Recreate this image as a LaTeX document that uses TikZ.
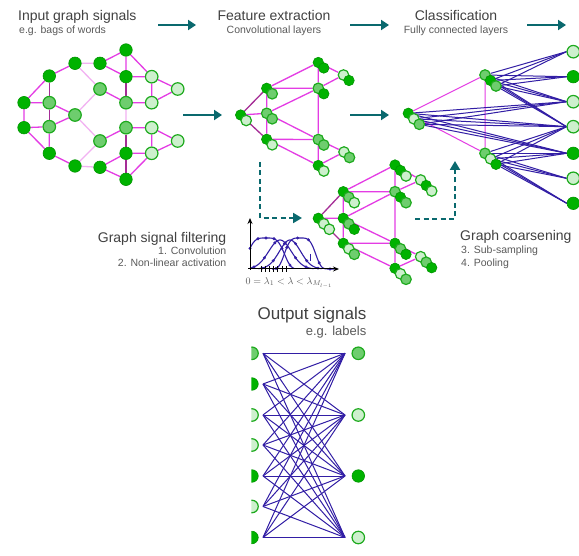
\documentclass[tikz,border=0pt]{standalone}
\usepackage{fontspec}
\setmainfont{Liberation Sans}
\usetikzlibrary{arrows.meta}
\definecolor{gdark}{RGB}{0,178,0}
\definecolor{gdarkb}{RGB}{0,150,0}
\definecolor{gmid}{RGB}{110,205,110}
\definecolor{glight}{RGB}{205,240,205}
\definecolor{gbord}{RGB}{30,170,30}
\definecolor{mag}{RGB}{228,60,228}
\definecolor{magd}{RGB}{165,45,150}
\definecolor{magl}{RGB}{242,178,242}
\definecolor{teal2}{RGB}{10,105,110}
\definecolor{indig}{RGB}{50,30,165}
\definecolor{txt}{RGB}{65,65,65}
\definecolor{txtl}{RGB}{90,90,90}
\pgfdeclarelayer{bg}\pgfdeclarelayer{paper}\pgfsetlayers{paper,bg,main}
\tikzset{
 nd/.style={circle,inner sep=0pt,fill=gdark,draw=gdarkb,line width=0.6pt},
 nm/.style={circle,inner sep=0pt,fill=gmid,draw=gbord,line width=1.2pt},
 nl/.style={circle,inner sep=0pt,fill=glight,draw=gbord,line width=1.2pt},
 szb/.style={minimum size=12.5pt},
 szs/.style={minimum size=10.5pt},
 emag/.style={draw=mag,line width=1.3pt},
 edark/.style={draw=magd,line width=1.3pt},
 elight/.style={draw=magl,line width=1.3pt},
 fcon/.style={draw=indig,line width=1pt},
 tarrow/.style={draw=teal2,line width=2.6pt,-{Triangle[length=8pt,width=10pt]}},
 darrow/.style={draw=teal2,line width=2pt,dash pattern=on 5pt off 3.5pt,-{Triangle[length=9pt,width=10pt]}},
 ttl/.style={text=txt,font=\fontsize{14}{16}\selectfont,inner sep=0pt},
 sbt/.style={text=txtl,font=\fontsize{10.5}{12}\selectfont,inner sep=0pt},
 axl/.style={draw=black,line width=1pt,-{Stealth[length=6pt,width=5pt]}},
 fcurve/.style={draw=indig,line width=1.1pt},
}
\newcommand{\ctwo}[4]{\node[#3,szs] (#1) at (#2) {};\node[#4,szs] (#1b) at ([shift={(5.5,5.5)}]#2) {};}
\newcommand{\cthree}[5]{\node[#3,szs] (#1) at (#2) {};\node[#4,szs] (#1b) at ([shift={(5.5,5.5)}]#2) {};\node[#5,szs] (#1c) at ([shift={(11,11)}]#2) {};}
\begin{document}
\begin{tikzpicture}[x=1pt,y=-1pt]
\begin{pgfonlayer}{paper}
\fill[white] (0,0) rectangle (579,556);
\end{pgfonlayer}
\useasboundingbox (0,0) rectangle (579,556);

% ---------- titles ----------
\node[ttl,anchor=base west] (t1) at (18,21) {Input graph signals};
\node[sbt,anchor=base west] (s1) at (19,33.5) {e.g. bags of words};
\node[ttl,anchor=base] (t2) at (274,20.7) {Feature extraction};
\node[sbt,anchor=base] (s2) at (274,34) {Convolutional layers};
\node[ttl,anchor=base] (t3) at (456,20.7) {Classification};
\node[sbt,anchor=base] (s3) at (456,33.5) {Fully connected layers};
\node[ttl,anchor=base east] (t4) at (226.5,242.5) {Graph signal filtering};
\node[sbt,anchor=base east] (s4a) at (226.5,254.5) {1. Convolution};
\node[sbt,anchor=base east] (s4b) at (226.5,266.7) {2. Non-linear activation};
\node[ttl,anchor=base west] (t5) at (460,241) {Graph coarsening};
\node[sbt,anchor=base west] (s5a) at (461,253.5) {3. Sub-sampling};
\node[sbt,anchor=base west] (s5b) at (461,266.7) {4. Pooling};
\node[ttl,font=\fontsize{17}{19}\selectfont,anchor=base east] (t6) at (366.5,319.5) {Output signals};
\node[sbt,font=\fontsize{13}{15}\selectfont,anchor=base east] (s6) at (366.5,335.5) {e.g. labels};

% ---------- arrows ----------
\coordinate (a1s) at (158,25); \coordinate (a1e) at (196,25);
\coordinate (a2s) at (350,25); \coordinate (a2e) at (389,25);
\coordinate (a3s) at (527,25); \coordinate (a3e) at (566,25);
\coordinate (m1s) at (183,115); \coordinate (m1e) at (222,115);
\coordinate (m2s) at (350,115); \coordinate (m2e) at (389,115);
\draw[tarrow] (a1s) -- (a1e);
\draw[tarrow] (a2s) -- (a2e);
\draw[tarrow] (a3s) -- (a3e);
\draw[tarrow] (m1s) -- (m1e);
\draw[tarrow] (m2s) -- (m2e);
\coordinate (d1s) at (260,162); \coordinate (d1e) at (302,218);
\coordinate (d2s) at (415,219); \coordinate (d2e) at (455,161);
\draw[darrow] (d1s) |- (d1e);
\draw[darrow] (d2s) -| (d2e);

% ---------- input graph ----------
\node[nd,szb] (A) at (24,102.7) {};
\node[nd,szb] (B) at (24,127.7) {};
\node[nd,szb] (C) at (49.3,76) {};
\node[nm,szb] (D) at (49.3,102.7) {};
\node[nm,szb] (E) at (49.3,126.7) {};
\node[nd,szb] (F) at (49.3,153.3) {};
\node[nd,szb] (G) at (75,63.3) {};
\node[nm,szb] (H) at (75,115) {};
\node[nd,szb] (I) at (75,166) {};
\node[nd,szb] (J) at (100,63.3) {};
\node[nm,szb] (K) at (100,89) {};
\node[nm,szb] (L) at (100,141) {};
\node[nd,szb] (M) at (100,167.3) {};
\node[nd,szb] (N) at (126,50) {};
\node[nd,szb] (O) at (126,76.7) {};
\node[nm,szb] (P) at (126,102.7) {};
\node[nm,szb] (Q) at (126,127.7) {};
\node[nd,szb] (R) at (126,153.3) {};
\node[nd,szb] (S) at (126,179.3) {};
\node[nl,szb] (T) at (151.7,76.7) {};
\node[nl,szb] (U) at (151.7,102.7) {};
\node[nl,szb] (V) at (177.7,89) {};
\node[nl,szb] (W) at (151.7,127.7) {};
\node[nl,szb] (X) at (151.7,153.3) {};
\node[nl,szb] (Y) at (177.7,141) {};
\begin{pgfonlayer}{bg}
\draw[emag] (A)--(B) (A)--(C) (A)--(D) (B)--(E) (B)--(F) (C)--(G) (D)--(H) (E)--(H) (E)--(F) (F)--(I)
 (J)--(N) (J)--(O) (N)--(O) (N)--(T) (O)--(T) (K)--(P) (P)--(U) (T)--(U) (T)--(V) (U)--(V)
 (L)--(Q) (Q)--(W) (M)--(R) (M)--(S) (R)--(X) (S)--(X) (W)--(X) (W)--(Y) (X)--(Y);
\draw[edark] (C)--(D) (D)--(E) (O)--(P) (Q)--(R) (R)--(S);
\draw[elight] (G)--(J) (G)--(K) (K)--(H) (H)--(L) (L)--(I) (I)--(M) (P)--(Q);
\end{pgfonlayer}

% ---------- feature extraction graph ----------
\ctwo{fa}{240.7,115}{nd}{nl}
\ctwo{fb}{266.7,88.3}{nd}{nm}
\ctwo{fc}{266.7,113.3}{nm}{nm}
\ctwo{fd}{266.7,139.3}{nd}{nl}
\ctwo{fe}{318.3,62.5}{nd}{nd}
\ctwo{ff}{318.3,88.3}{nm}{nd}
\ctwo{fg}{318.3,139.5}{nm}{nm}
\ctwo{fh}{318.3,165.5}{nd}{nl}
\ctwo{fi}{343.5,75}{nl}{nd}
\ctwo{fj}{344,152}{nl}{nm}
\begin{pgfonlayer}{bg}
\draw[edark] (fa)--(fb) (fa)--(fd);
\draw[emag] (fa)--(fc) (fb)--(fc) (fc)--(fd) (fb)--(fe) (fb)--(ff) (fc)--(ff) (fc)--(fg) (fd)--(fg) (fd)--(fh)
 (fe)--(ff) (ff)--(fg) (fg)--(fh) (fe)--(fi) (ff)--(fi) (fg)--(fj) (fh)--(fj);
\end{pgfonlayer}

% ---------- coarsened graph ----------
\cthree{ca}{318.3,218.3}{nd}{nl}{nl}
\cthree{cb}{343.3,191.7}{nd}{nm}{nl}
\cthree{cc}{343.3,218.3}{nd}{nm}{nd}
\cthree{cd}{343.3,243.3}{nd}{nl}{nm}
\cthree{ce}{395,165}{nd}{nd}{nl}
\cthree{cf}{395,191.7}{nm}{nd}{nm}
\cthree{cg}{395,243.3}{nd}{nm}{nd}
\cthree{ch}{395,268.3}{nd}{nl}{nm}
\cthree{ci}{420.7,180}{nl}{nd}{nl}
\cthree{cj}{420.7,256.7}{nl}{nm}{nd}
\begin{pgfonlayer}{bg}
\draw[edark] (ca)--(cb) (ca)--(cd);
\draw[emag] (ca)--(cc) (cb)--(cc) (cc)--(cd) (cb)--(ce) (cb)--(cf) (cc)--(cf) (cc)--(cg) (cd)--(cg) (cd)--(ch)
 (ce)--(cf) (cf)--(cg) (cg)--(ch) (ce)--(ci) (cf)--(ci) (cg)--(cj) (ch)--(cj);
\end{pgfonlayer}

% ---------- filter plot ----------
\coordinate (po) at (250,270); \coordinate (py) at (250,218); \coordinate (px) at (339,269);
\coordinate (pl) at (248,269);
\draw[fcurve] plot[domain=250:294,samples=60,smooth] (\x,{269-31*exp(-(((\x-266)*(\x-266)/400)^2))});
\draw[fcurve] plot[domain=250:314,samples=60,smooth] (\x,{269-29*exp(-((\x-280)*(\x-280)/256))});
\draw[fcurve] plot[domain=258:322,samples=60,smooth] (\x,{269-29*exp(-((\x-290)*(\x-290)/225))});
\draw[fcurve] plot[domain=272:334,samples=60,smooth] (\x,{269-31*exp(-(((\x-300)*(\x-300)/289)^2))});
\path plot[only marks,mark=*,mark size=1.3pt,mark options={fill=indig,draw=indig},domain=250:290,samples=6] (\x,{269-31*exp(-(((\x-266)*(\x-266)/400)^2))});
\path plot[only marks,mark=*,mark size=1.3pt,mark options={fill=indig,draw=indig},domain=254:306,samples=6] (\x,{269-29*exp(-((\x-280)*(\x-280)/256))});
\path plot[only marks,mark=*,mark size=1.3pt,mark options={fill=indig,draw=indig},domain=262:318,samples=6] (\x,{269-29*exp(-((\x-290)*(\x-290)/225))});
\path plot[only marks,mark=*,mark size=1.3pt,mark options={fill=indig,draw=indig},domain=276:330,samples=6] (\x,{269-31*exp(-(((\x-300)*(\x-300)/289)^2))});
\draw[axl] (po) -- (py);
\draw[axl] (pl) -- (px);
\foreach \t in {261,265,269,273,277,282,286} \draw[line width=0.8pt] (\t,266) -- (\t,272);
\draw[indig,line width=1pt] (310,254) -- (310,261);
\node[text=txtl,font=\fontsize{10}{12}\selectfont,anchor=base,inner sep=0pt] (lam) at (289,284.5) {$0=\lambda_1<\lambda<\lambda_{M_{l-1}}$};

% ---------- classification ----------
\cthree{pa}{408.3,113.3}{nd}{nl}{nm}
\cthree{pq}{485,75}{nm}{nd}{nm}
\cthree{pr}{485,153.3}{nm}{nl}{nd}
\node[nl,szb] (o1) at (573.3,51.7) {};
\node[nd,szb] (o2) at (573.3,76.7) {};
\node[nl,szb] (o3) at (573.3,101.7) {};
\node[nl,szb] (o4) at (573.3,126.7) {};
\node[nd,szb] (o5) at (573.3,153.3) {};
\node[nl,szb] (o6) at (573.3,178.3) {};
\node[nd,szb] (o7) at (573.3,203.3) {};
\begin{pgfonlayer}{bg}
\draw[emag,line width=1pt] (pa)--(pq) (pa)--(pr) (pq)--(pr);
\foreach \s in {pa,pab,pac}{\foreach \t in {o3,o4,o5}{\draw[fcon] (\s) -- (\t.west);}}
\foreach \s in {pq,pqb,pqc}{\foreach \t in {o1,o2,o3,o4}{\draw[fcon] (\s) -- (\t.west);}}
\foreach \s in {pr,prb,prc}{\foreach \t in {o4,o5,o6,o7}{\draw[fcon] (\s) -- (\t.west);}}
\end{pgfonlayer}

% ---------- output signals ----------
\begin{scope}
\clip (251.3,300) rectangle (372,556);
\node[nm,szb] (L1) at (252,353.3) {};
\node[nd,szb] (L2) at (252,384) {};
\node[nl,szb] (L3) at (252,415) {};
\node[nl,szb] (L4) at (252,445) {};
\node[nd,szb] (L5) at (252,476) {};
\node[nl,szb] (L6) at (252,506.5) {};
\node[nd,szb] (L7) at (252,537.5) {};
\end{scope}
\node[nm,szb] (R1) at (358.3,353.3) {};
\node[nl,szb] (R2) at (358.3,415) {};
\node[nd,szb] (R3) at (358.3,476) {};
\node[nl,szb] (R4) at (358.3,537.5) {};
\foreach \i/\y in {1/353.3,2/384,3/415,4/445,5/476,6/506.5,7/537.5} \coordinate (ls\i) at (263,\y);
\foreach \j/\y in {1/353.3,2/415,3/476,4/537.5} \coordinate (rs\j) at (345,\y);
\foreach \i in {1,...,7}{\foreach \j in {1,...,4}{\draw[fcon] (ls\i) -- (rs\j);}}
\end{tikzpicture}
\end{document}
